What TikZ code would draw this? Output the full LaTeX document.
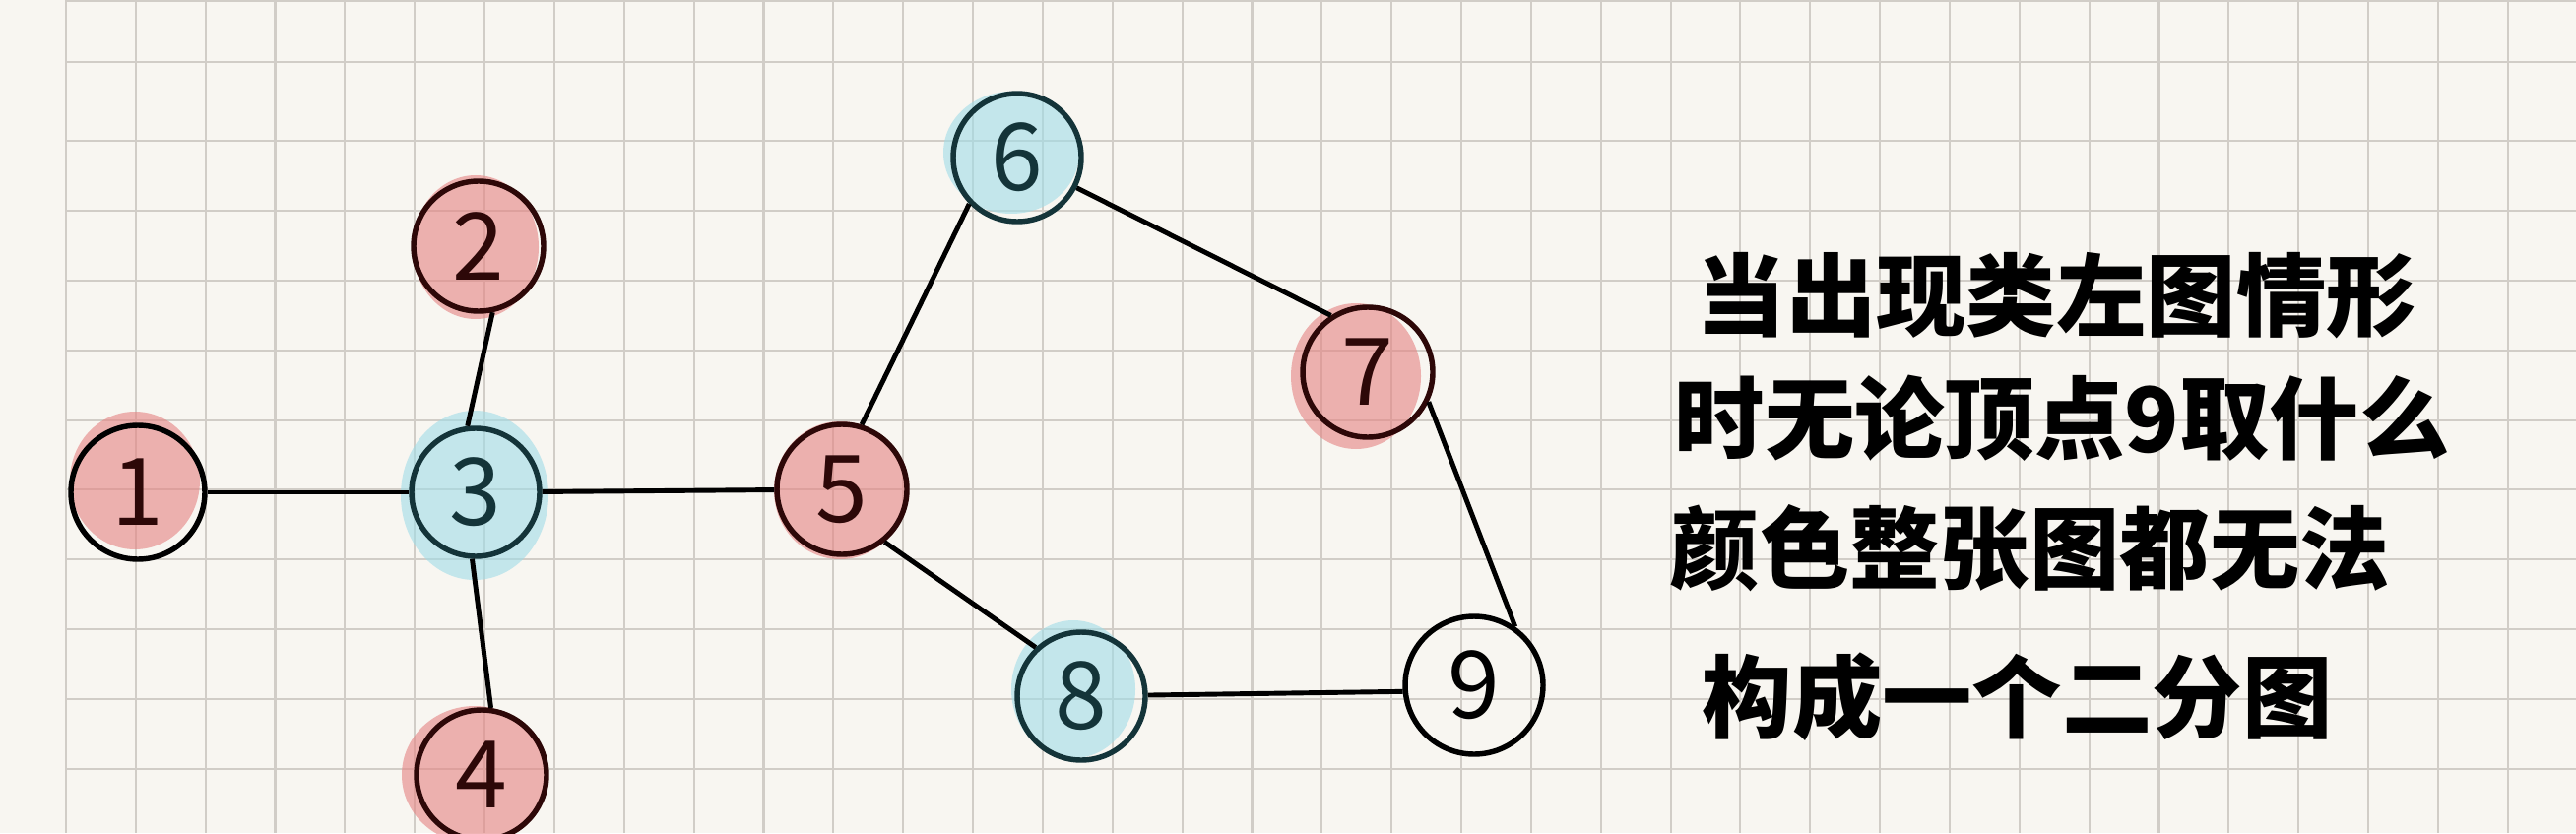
\documentclass[tikz,border=0pt]{standalone}
\usepackage{fontspec}
\newfontfamily\cjk{Noto Sans CJK SC}
\usetikzlibrary{positioning,calc,backgrounds}
\definecolor{paper}{RGB}{248,246,241}
\definecolor{gridc}{RGB}{209,205,199}
\definecolor{pinkc}{RGB}{229,130,130}
\definecolor{bluec}{RGB}{160,220,232}
\definecolor{redink}{RGB}{45,8,8}
\definecolor{tealink}{RGB}{20,52,57}

\begin{document}
\begin{tikzpicture}[font=\cjk\fontsize{27}{27}\selectfont,
 redv/.style={circle,draw=redink,text=redink,line width=1.55pt,minimum size=1.32cm,inner sep=0pt},
 bluev/.style={circle,draw=tealink,text=tealink,line width=1.55pt,minimum size=1.30cm,inner sep=0pt},
 plainv/.style={circle,draw=black,line width=1.55pt,minimum size=1.40cm,inner sep=0pt},
 hlred/.style={fill=pinkc,opacity=0.6},
 hlblue/.style={fill=bluec,opacity=0.6},
 ln/.style={line width=1.4pt},
 note/.style={anchor=west,inner sep=0pt,font=\cjk\bfseries\fontsize{26}{26}\selectfont}]
\useasboundingbox (0,0) rectangle (26.16,-8.46);
% vertices
\node[redv,draw=black,minimum size=1.36cm] (v1) at (1.40,-5.00) {1};
\node[redv] (v2) at (4.86,-2.50) {2};
\node[bluev] (v3) at (4.83,-5.00) {3};
\node[redv] (v4) at (4.89,-7.87) {4};
\node[redv] (v5) at (8.55,-4.97) {5};
\node[bluev] (v6) at (10.33,-1.60) {6};
\node[redv] (v7) at (13.89,-3.78) {7};
\node[bluev] (v8) at (10.98,-7.07) {8};
\node[plainv] (v9) at (14.97,-6.96) {9};
% edges
\draw[ln] (v1) -- (v3);
\draw[ln] (v2.-78) -- (v3.97);
\draw[ln] (v3.-93) -- (v4.82);
\draw[ln] (v3) -- (v5);
\draw[ln] (v5.73) -- (v6.-136);
\draw[ln] (v6.-27) -- (v7.123);
\draw[ln] (v7.-26) -- (v9.55);
\draw[ln] (v5.-51) -- (v8.133);
\draw[ln] (v8) -- (v9.185);
% note
\node[note] (t1) at (17.22,-3.00) {当出现类左图情形};
\node[note] (t2) at (17.00,-4.25) {时无论顶点9取什么};
\node[note] (t3) at (16.95,-5.57) {颜色整张图都无法};
\node[note] (t4) at (17.28,-7.08) {构成一个二分图};
% paper, grid and highlights
\begin{scope}[on background layer]
\fill[paper] (0,0) rectangle (26.16,-8.46);
\foreach \i in {0,...,35}
  \draw[gridc,line width=0.6pt] ({0.67+0.7085*\i},0) -- ++(0,-8.46);
\foreach \y in {0.01,0.63,1.43,2.14,2.85,3.56,4.27,4.97,5.68,6.39,7.10,7.81}
  \draw[gridc,line width=0.6pt] (0.67,-\y) -- (26.16,-\y);
\fill[hlred] ($(v1)+(-0.03,0.12)$) ellipse (0.66 and 0.70);
\fill[hlred] ($(v2)+(-0.03,-0.01)$) ellipse (0.64 and 0.73);
\fill[hlblue] ($(v3)+(-0.01,-0.03)$) ellipse (0.75 and 0.86);
\fill[hlred] ($(v4)+(-0.07,0)$) ellipse (0.74 and 0.70);
\fill[hlred] ($(v5)+(-0.02,-0.01)$) ellipse (0.67 and 0.70);
\fill[hlblue] ($(v6)+(-0.06,0.05)$) ellipse (0.69 and 0.62);
\fill[hlred] ($(v7)+(-0.12,-0.04)$) ellipse (0.66 and 0.74);
\fill[hlblue] ($(v8)+(-0.08,0.07)$) ellipse (0.63 and 0.70);
\end{scope}
\end{tikzpicture}
\end{document}
